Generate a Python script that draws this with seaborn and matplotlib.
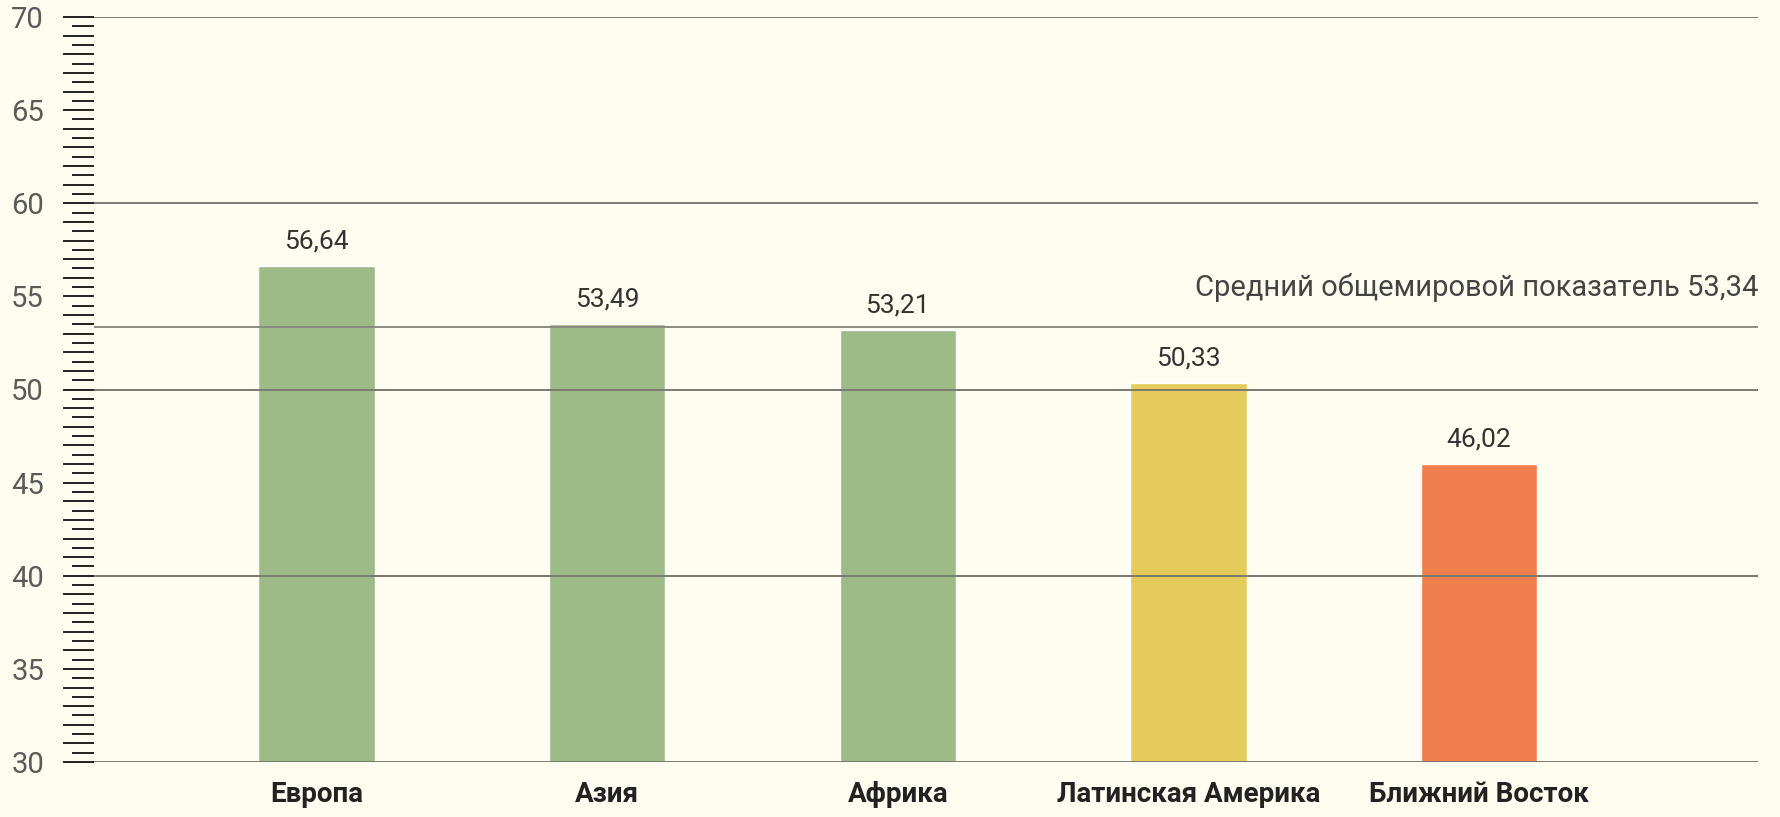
import numpy as np
import pandas as pd
import matplotlib
matplotlib.use("Agg")
import matplotlib.pyplot as plt
import seaborn as sns
from matplotlib.ticker import FixedLocator

regions = ["Европа", "Азия", "Африка", "Латинская Америка", "Ближний Восток"]
values = [56.64, 53.49, 53.21, 50.33, 46.02]
bar_colors = ["#9dbb87", "#9dbb87", "#9dbb87", "#e5cb5c", "#f07d4e"]
world_avg = 53.34
avg_text = "Средний общемировой показатель 53,34"
y_ticks = [30, 35, 40, 45, 50, 55, 60, 65, 70]

bg = "#fefdf0"
sns.set_style("white")
plt.rcParams["font.family"] = ["Liberation Sans Narrow", "Roboto", "DejaVu Sans"]

df = pd.DataFrame({"region": regions, "value": values})

fig = plt.figure(figsize=(17.81, 8.17), dpi=100, facecolor=bg)
ax = fig.add_axes([94 / 1781, 1 - 762 / 817, (1758 - 94) / 1781, (762 - 17) / 817])
ax.set_facecolor(bg)

sns.barplot(data=df, x="region", y="value", hue="region", palette=bar_colors,
            width=0.4, legend=False, ax=ax, saturation=1, zorder=1)

ax.set_ylim(30, 70)
ax.set_xlim(-0.766, 4.96)
for s in ax.spines.values():
    s.set_visible(False)

# grid lines every 10 + world average line
for y in [30, 40, 50, 60, 70]:
    ax.axhline(y, color="#7a7a72", lw=1.4, zorder=2)
ax.axhline(world_avg, color="#8a8a80", lw=1.4, zorder=2)

ax.yaxis.set_major_locator(FixedLocator(y_ticks))
ax.yaxis.set_minor_locator(FixedLocator([v for v in range(30, 71) if v % 5]))
ax.tick_params(axis="y", which="major", direction="out", length=22, width=1.4,
               color="#222222", pad=14, labelsize=21, labelcolor="#5a5a5a", left=True)
ax.tick_params(axis="y", which="minor", direction="out", length=22, width=1.4,
               color="#222222", left=True)
# short half-step ticks
sec = ax.secondary_yaxis("left")
sec.set_yticks(np.arange(30.5, 70, 1.0))
sec.tick_params(axis="y", direction="out", length=16, width=1.4, color="#222222",
                labelleft=False)
for s in sec.spines.values():
    s.set_visible(False)

ax.set_xlabel("")
ax.set_ylabel("")
ax.tick_params(axis="x", length=0, pad=14)
for lbl in ax.get_xticklabels():
    lbl.set_fontsize(20)
    lbl.set_fontweight("bold")
    lbl.set_color("#222222")

labels = [f"{v:.2f}".replace(".", ",") for v in values]
for cont, lab in zip(ax.containers, labels):
    ax.bar_label(cont, labels=[lab], padding=9, fontsize=19, color="#333333")

ax.annotate(avg_text, xy=(1, world_avg), xycoords=("axes fraction", "data"),
            xytext=(0, 40), textcoords="offset pixels", ha="right", va="center",
            fontsize=21, color="#444444")

fig.savefig("out.png", dpi=100, facecolor=bg)
